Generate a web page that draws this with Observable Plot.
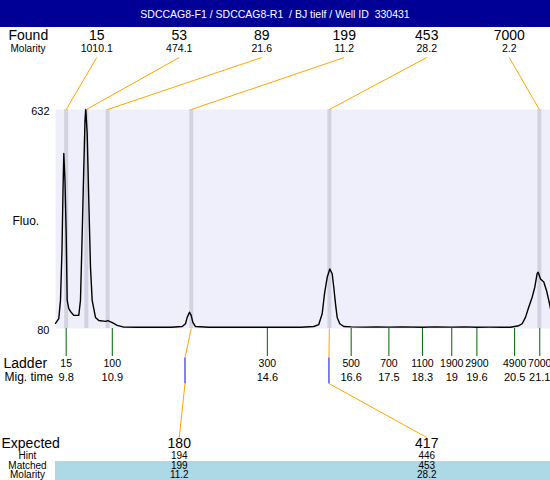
<!DOCTYPE html>
<html>
<head>
<meta charset="utf-8">
<script src="https://cdn.jsdelivr.net/npm/d3@7"></script>
<script src="https://cdn.jsdelivr.net/npm/@observablehq/plot@0.6"></script>
<style>
  html, body { margin: 0; padding: 0; background: white; }
  #header { width: 550px; height: 27px; background: #000096; color: white;
    font-family: "Liberation Sans", Arial, sans-serif; font-size: 10.5px;
    line-height: 29px; text-align: center; white-space: pre; overflow: hidden; }
  #chart svg { display: block; }
</style>
</head>
<body>
<div id="header">SDCCAG8-F1 / SDCCAG8-R1  / BJ tielf / Well ID  330431</div>
<div id="chart"></div>
<script>
// ---- data ----
const foundSize = ["15", "53", "89", "199", "453", "7000"];
const foundMolarity = ["1010.1", "474.1", "21.6", "11.2", "28.2", "2.2"];
const foundTime = [9.80, 10.28, 10.79, 12.785, 16.08, 21.09];

const ladderSize = ["15", "100", "300", "500", "700", "1100", "1900", "2900", "4900", "7000"];
const ladderTime = [9.8, 10.9, 14.6, 16.6, 17.5, 18.3, 19, 19.6, 20.5, 21.1];
const ladderTimeLabel = ["9.8", "10.9", "14.6", "16.6", "17.5", "18.3", "19", "19.6", "20.5", "21.1"];

const expectedSize = ["180", "417"];
const expectedTime = [12.635, 16.07];
const expectedFoundIndex = [3, 4];
const hintSize = ["194", "446"];
const matchedSize = ["199", "453"];
const matchedMolarity = ["11.2", "28.2"];

const yTicks = [80, 632];

const traceTime = [9.545, 9.623, 9.664, 9.70, 9.724, 9.743, 9.771, 9.80, 9.824, 9.862, 9.903, 9.981, 10.10, 10.141, 10.182, 10.22, 10.249, 10.268, 10.301, 10.339, 10.38, 10.42, 10.499, 10.578, 10.738, 10.793, 10.90, 11.017, 11.174,
  11.5, 11.9, 12.3, 12.568, 12.647, 12.687, 12.742, 12.783, 12.82, 12.885, 13.2, 13.7, 14.2, 14.6, 15.0, 15.4, 15.708, 15.827, 15.908, 15.963, 16.028, 16.09, 16.147, 16.185, 16.226, 16.266, 16.328, 16.424,
  16.6, 16.9, 17.2, 17.5, 17.8, 18.3, 18.6, 19.0, 19.3, 19.6, 19.9, 20.2, 20.401, 20.599, 20.68, 20.759, 20.838, 20.919, 20.981, 21.038, 21.062, 21.117, 21.196, 21.26, 21.315, 21.356];
const traceFluo = [93, 105, 151, 277, 428, 521, 453, 319, 151, 130, 123, 113, 113, 151, 319, 486, 604, 632, 571, 403, 234, 151, 108, 100, 98, 100, 95, 88, 83.5,
  83, 83.3, 83, 85, 92, 108, 121, 113, 96, 85, 83, 83.3, 83, 83.5, 83, 83.2, 85, 90, 117, 167, 209, 230, 218, 184, 142, 108, 92, 85,
  84, 83.5, 84, 83.5, 84, 83.3, 84, 83.5, 84, 83.2, 83.5, 83.3, 83.3, 87, 92, 108, 134, 159, 184, 219, 222, 205, 197, 176, 151, 130];

// ---- layout ----
const W = 550, H = 453, HEADER = 27;
const mTop = 82, mBottom = 152, mLeft = 55, mRight = 0;
const xDomain = [9.545, 21.356];
const yDomain = [80, 632];
const plotTop = mTop, plotBottom = H - mBottom;
// y value (fluorescence units, extended linearly) for a page row
const fluoAt = pageY => yDomain[0] + (plotBottom - (pageY - HEADER)) / (plotBottom - plotTop) * (yDomain[1] - yDomain[0]);
// evenly spaced label slots along the x domain
const slot = (i, n) => xDomain[0] + (xDomain[1] - xDomain[0]) * (i + 0.5) / n;

const orange = "#ffa500", green = "#006400", blue = "#0000ff";
const font = "Liberation Sans, Arial, sans-serif";
const M = {lineAnchor: "middle"};

const trace = traceTime.map((t, i) => ({t, f: traceFluo[i]}));
const found = foundSize.map((s, i) => ({s, m: foundMolarity[i], t: foundTime[i], slot: slot(i, foundSize.length)}));
const ladder = ladderSize.map((s, i) => ({s, t: ladderTime[i], lbl: ladderTimeLabel[i]}));
const expected = expectedSize.map((s, i) => ({
  s, t: expectedTime[i], ft: foundTime[expectedFoundIndex[i]], slot: slot(i, expectedSize.length),
  hint: hintSize[i], matched: matchedSize[i], mol: matchedMolarity[i]
}));

const chart = Plot.plot({
  width: W, height: H,
  marginTop: mTop, marginBottom: mBottom, marginLeft: mLeft, marginRight: mRight,
  x: {domain: xDomain, axis: null},
  y: {domain: yDomain, axis: null},
  style: {fontFamily: font, background: "white", overflow: "visible"},
  marks: [
    // light blue matched band
    Plot.rect([0], {x1: xDomain[0], x2: xDomain[1], y1: fluoAt(461), y2: fluoAt(480), fill: "#add8e6"}),
    Plot.frame({fill: "#efeffb", stroke: "none"}),
    Plot.ruleX(found, {x: "t", stroke: "#d2d2e0", strokeWidth: 4}),
    Plot.line(trace, {x: "t", y: "f", stroke: "black", strokeWidth: 1.4}),
    // y labels
    Plot.text(yTicks, {...M, y: d => d, text: d => String(d), frameAnchor: "left", textAnchor: "end", dx: -6, dy: 2, fontSize: 11}),
    Plot.text(["Fluo."], {...M, frameAnchor: "left", textAnchor: "start", dx: -43, dy: 2, fontSize: 12}),
    // found rows
    Plot.text(["Found"], {...M, frameAnchor: "top-left", textAnchor: "start", dx: -47, dy: -74, fontSize: 14}),
    Plot.text(["Molarity"], {...M, frameAnchor: "top-left", textAnchor: "start", dx: -45, dy: -61, fontSize: 10}),
    Plot.text(found, {...M, x: "slot", text: "s", frameAnchor: "top", dy: -74, fontSize: 14}),
    Plot.text(found, {...M, x: "slot", text: "m", frameAnchor: "top", dy: -61, fontSize: 10.5}),
    Plot.link(found, {x1: "slot", y1: fluoAt(57), x2: "t", y2: yDomain[1], stroke: orange}),
    // ladder
    Plot.ruleX(ladder, {x: "t", y1: yDomain[0], y2: fluoAt(356), stroke: green}),
    Plot.text(["Ladder"], {...M, frameAnchor: "bottom-left", textAnchor: "start", dx: -52, dy: 35, fontSize: 14}),
    Plot.text(["Mig. time"], {...M, frameAnchor: "bottom-left", textAnchor: "start", dx: -51, dy: 49, fontSize: 12}),
    Plot.text(ladder, {...M, x: "t", text: "s", frameAnchor: "bottom", dy: 35, fontSize: 10.5}),
    Plot.text(ladder, {...M, x: "t", text: "lbl", frameAnchor: "bottom", dy: 49, fontSize: 11}),
    // expected connectors
    Plot.link(expected, {x1: "ft", y1: yDomain[0], x2: "t", y2: fluoAt(357), stroke: orange}),
    Plot.link(expected, {x1: "t", y1: fluoAt(357), x2: "t", y2: fluoAt(383), stroke: blue}),
    Plot.link(expected, {x1: "t", y1: fluoAt(383), x2: "slot", y2: fluoAt(437), stroke: orange}),
    // expected rows
    Plot.text(["Expected"], {...M, frameAnchor: "bottom-left", textAnchor: "start", dx: -54, dy: 115, fontSize: 14}),
    Plot.text(["Hint"], {...M, frameAnchor: "bottom-left", textAnchor: "middle", dx: -28, dy: 127, fontSize: 10}),
    Plot.text(["Matched"], {...M, frameAnchor: "bottom-left", textAnchor: "middle", dx: -28, dy: 137, fontSize: 10}),
    Plot.text(["Molarity"], {...M, frameAnchor: "bottom-left", textAnchor: "middle", dx: -28, dy: 146.5, fontSize: 10}),
    Plot.text(expected, {...M, x: "slot", text: "s", frameAnchor: "bottom", dy: 115, fontSize: 14}),
    Plot.text(expected, {...M, x: "slot", text: "hint", frameAnchor: "bottom", dy: 127, fontSize: 10}),
    Plot.text(expected, {...M, x: "slot", text: "matched", frameAnchor: "bottom", dy: 137, fontSize: 10}),
    Plot.text(expected, {...M, x: "slot", text: "mol", frameAnchor: "bottom", dy: 146.5, fontSize: 10})
  ]
});
document.getElementById("chart").appendChild(chart);
</script>
</body>
</html>
